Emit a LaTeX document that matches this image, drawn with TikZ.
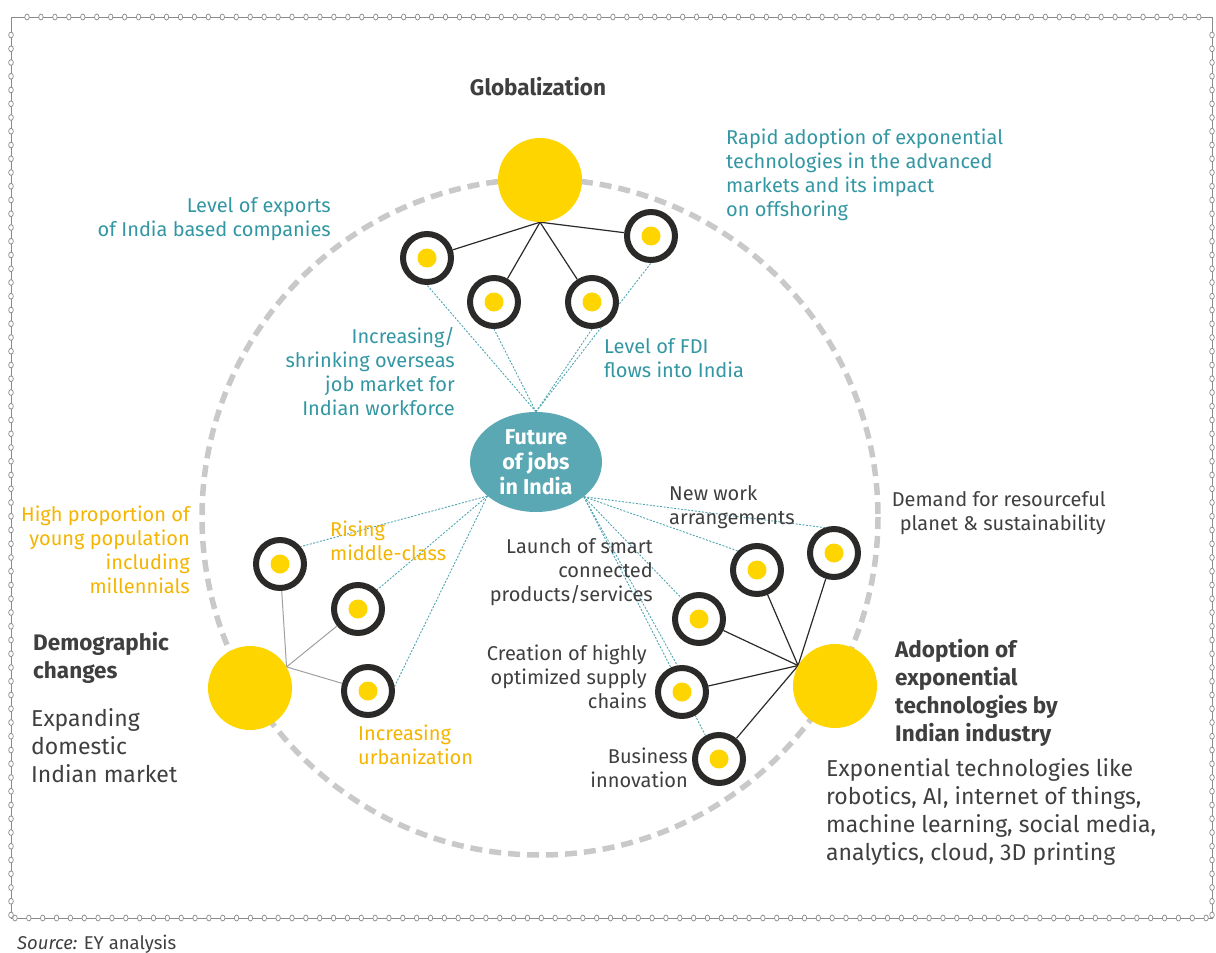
\documentclass[tikz,border=0pt]{standalone}
\usepackage{fontspec}
\setmainfont{Fira Sans}
\usetikzlibrary{backgrounds,shapes.geometric}
\definecolor{eyyel}{HTML}{FFD500}
\definecolor{ringc}{HTML}{2B2A28}
\definecolor{tealtx}{HTML}{3397A3}
\definecolor{tealln}{HTML}{4FA5B1}
\definecolor{futc}{HTML}{5AA8B4}
\definecolor{orgtx}{HTML}{F5B400}
\definecolor{darktx}{HTML}{3F3F3F}
\definecolor{bordc}{HTML}{8A8A8A}
\definecolor{dashc}{HTML}{C9C9C9}
\tikzset{
  bigdot/.style={circle, fill=eyyel, minimum size=84pt, inner sep=0pt},
  ringdot/.style={circle, draw=ringc, line width=6pt, fill=white, minimum size=48pt, inner sep=0pt,
    path picture={\fill[eyyel] (path picture bounding box.center) circle (9.5pt);}},
  blkln/.style={draw=ringc, line width=1.2pt},
  gryln/.style={draw=gray!75, line width=1pt},
  tdot/.style={draw=tealln, line width=0.9pt, dash pattern=on 2pt off 1.5pt},
  tealtext/.style={text=tealtx, inner sep=0pt, font=\fontsize{20}{23.7}\selectfont},
  orgtext/.style={text=orgtx, inner sep=0pt, font=\fontsize{20}{23.7}\selectfont},
  smalldark/.style={text=darktx, inner sep=0pt, font=\fontsize{20}{23.7}\selectfont},
  headtext/.style={text=darktx, inner sep=0pt, font=\fontsize{22.5}{28}\selectfont\bfseries},
  bodytext/.style={text=darktx, inner sep=0pt, font=\fontsize{23}{28}\selectfont},
}
\begin{document}
\begin{tikzpicture}[x=1pt,y=-1pt]
\useasboundingbox (0,0) rectangle (1216,953);
% border
\draw[bordc, line width=0.9pt] (11,918) -- (11,17) -- (1212,17) -- (1212,918) -- cycle;
\foreach \i in {0,...,84} {\filldraw[draw=bordc, fill=white, line width=0.7pt] ({27+\i*13.95},17) ellipse (2.2 and 3);}
\foreach \i in {0,...,86} {\filldraw[draw=bordc, fill=white, line width=0.7pt] ({15+\i*13.85},918) ellipse (2.2 and 3);}
\foreach \i in {0,...,64} {\filldraw[draw=bordc, fill=white, line width=0.7pt] (11,{35+\i*13.75}) ellipse (2.3 and 2.9);}
\foreach \i in {0,...,64} {\filldraw[draw=bordc, fill=white, line width=0.7pt] (1212,{35+\i*13.75}) ellipse (2.3 and 2.9);}

% nodes
\node[bigdot] (G) at (540,180) {};
\node[bigdot] (Dm) at (250,688) {};
\node[bigdot] (Ad) at (835,686) {};

\node[ringdot] (A) at (427,258) {};
\node[ringdot] (B) at (494,302) {};
\node[ringdot] (C) at (592,302) {};
\node[ringdot] (D) at (651,236) {};

\node[ringdot] (L1) at (280,564) {};
\node[ringdot] (L2) at (358,609) {};
\node[ringdot] (L3) at (368,691) {};

\node[ringdot] (R1) at (757,570) {};
\node[ringdot] (R2) at (834,553) {};
\node[ringdot] (R3) at (699,619) {};
\node[ringdot] (R4) at (682,692) {};
\node[ringdot] (R5) at (719,759) {};

\node[ellipse, fill=futc, minimum width=132pt, minimum height=100pt, inner sep=0pt, text=white,
  align=center, font=\fontsize{21.5}{25}\selectfont\bfseries] (F) at (536,462) {Future\\of jobs\\in India};

% connectors
\begin{scope}[on background layer]
\draw[dashc, line width=5.5pt, dash pattern=on 12pt off 7pt] (540,517) circle (338);
\draw[blkln] (G.south) -- (A);
\draw[blkln] (G.south) -- (B);
\draw[blkln] (G.south) -- (C);
\draw[blkln] (G.south) -- (D);
\draw[gryln] (Dm.30) -- (L1);
\draw[gryln] (Dm.30) -- (L2);
\draw[gryln] (Dm.30) -- (L3);
\draw[blkln] (Ad.151) -- (R1);
\draw[blkln] (Ad.151) -- (R2);
\draw[blkln] (Ad.151) -- (R3);
\draw[blkln] (Ad.151) -- (R4);
\draw[blkln] (Ad.151) -- (R5);
\draw[tdot] (F.north) -- (A.south);
\draw[tdot] (F.north) -- (B.south);
\draw[tdot] (F.north) -- (C.south);
\draw[tdot] (F.north) -- (D.south);
\draw[tdot] (F.215) -- (L1.40);
\draw[tdot] (F.215) -- (L2.45);
\draw[tdot] (F.215) -- (L3.10);
\draw[tdot] (F.324) -- (R2.110);
\draw[tdot] (F.324) -- (R1.135);
\draw[tdot] (F.324) -- (R3.130);
\draw[tdot] (F.324) -- (R4.100);
\draw[tdot] (F.324) -- (R5.120);
\end{scope}

% texts (base anchor = baseline of last line)
\node[headtext, anchor=base] (tGlob) at (538,95) {Globalization};
\node[tealtext, anchor=base west, align=left] (tRapid) at (726,216) {Rapid adoption of exponential\\technologies in the advanced\\markets and its impact\\on offshoring};
\node[tealtext, anchor=base east, align=right] (tExp) at (331,236) {Level of exports\\of India based companies};
\node[tealtext, anchor=base east, align=right] (tInc) at (455,415) {Increasing/\\shrinking overseas\\job market for\\Indian workforce};
\node[tealtext, anchor=base west, align=left] (tFDI) at (604,377) {Level of FDI\\flows into India};
\node[orgtext, anchor=base east, align=right] (tHigh) at (190,593) {High proportion of\\young population\\including\\millennials};
\node[orgtext, anchor=base west, align=left] (tRise) at (330,560) {Rising\\middle-class};
\node[headtext, anchor=base west, align=left] (tDemo) at (33,678) {Demographic\\changes};
\node[bodytext, anchor=base west, align=left] (tExpand) at (31,782) {Expanding\\domestic\\Indian market};
\node[orgtext, anchor=base west, align=left] (tUrb) at (358,764) {Increasing\\urbanization};
\node[smalldark, anchor=base west, align=left] (tNew) at (669,524) {New work\\arrangements};
\node[smalldark, anchor=base east, align=right] (tDem) at (1106,530) {Demand for resourceful\\planet \& sustainability};
\node[smalldark, anchor=base east, align=right] (tLaunch) at (653,601) {Launch of smart\\connected\\products/services};
\node[smalldark, anchor=base east, align=right] (tCreat) at (647,708) {Creation of highly\\optimized supply\\chains};
\node[smalldark, anchor=base east, align=right] (tBus) at (688,787) {Business\\innovation};
\node[headtext, anchor=base west, align=left] (tAdopt) at (895,741) {Adoption of\\exponential\\technologies by\\Indian industry};
\node[bodytext, anchor=base west, align=left] (tExpo) at (826,860) {Exponential technologies like\\robotics, AI, internet of things,\\machine learning, social media,\\analytics, cloud, 3D printing};
\node[text=darktx, inner sep=0pt, anchor=base west, font=\fontsize{18.5}{22}\selectfont] (tSrc) at (17,949) {\textit{Source:} EY analysis};
\end{tikzpicture}
\end{document}
